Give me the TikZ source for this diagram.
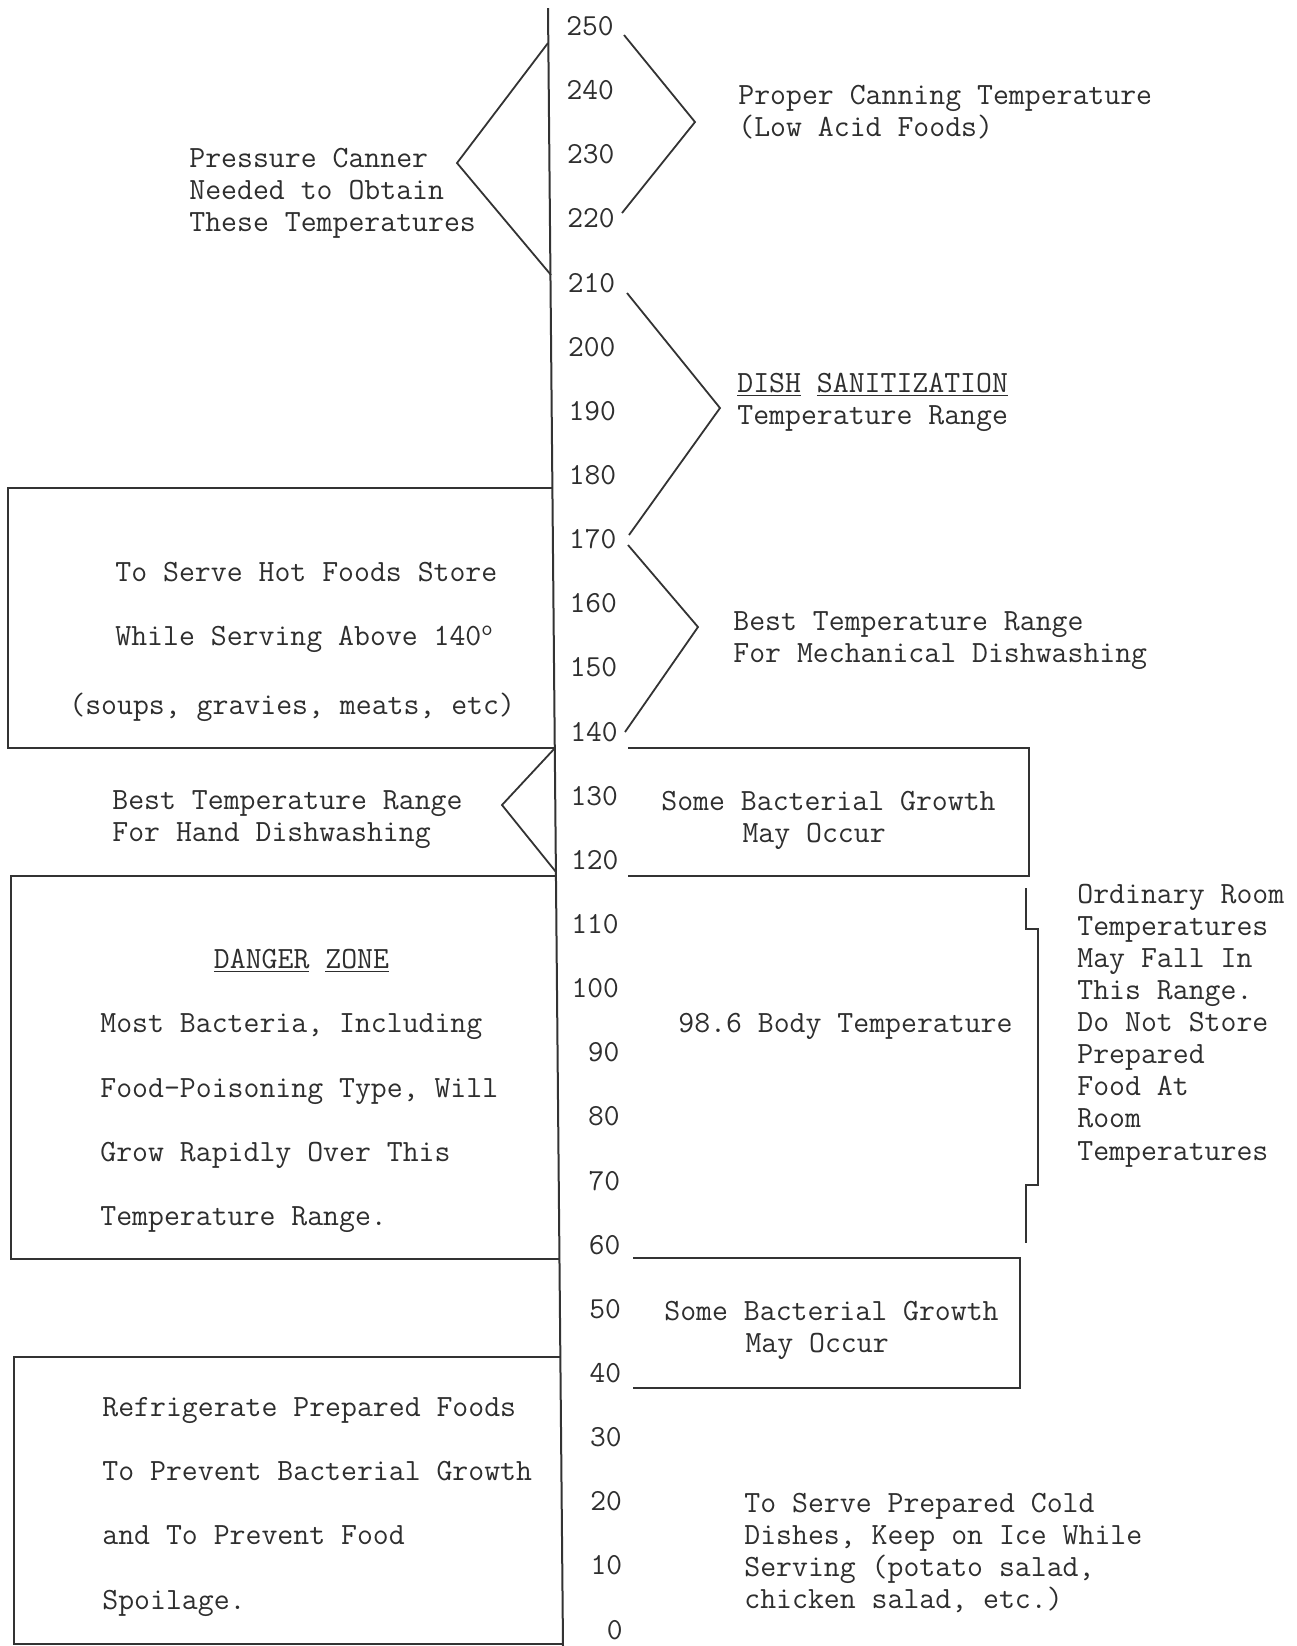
\documentclass[tikz,border=0pt]{standalone}
\usepackage{tikz}
\usetikzlibrary{%
  calc,
  positioning,
}

\begin{document}
\begin{tikzpicture}[x=0.5pt, y=-0.5pt,
    note/.style={font=\ttfamily\fontsize{15.45}{16.05}\selectfont,
      inner sep=0pt, anchor=north west, align=left, text=black!82},
    note2/.style={note, font=\ttfamily\fontsize{15.45}{32.2}\selectfont},
    degree/.style={font=\ttfamily\fontsize{15.3}{16.05}\selectfont,
      inner sep=0pt, anchor=east, text=black!82},
    chevron/.style={draw=black!80, line width=0.9pt},
    boxline/.style={draw=black!80, line width=1.1pt}]

        \useasboundingbox (0,0) rectangle (1297,1646);
        % units are pixels of the sheet, y runs down

        \coordinate (axtop) at (548,8);
        \coordinate (axbot) at (563,1646);
        \draw[line width=1pt, black!80] (axtop) -- (axbot);

        \foreach \t in {0,10,...,250}
          \node[degree] (n\t) at ({614+9*(250-\t)/250}, {26.2+6.414*(250-\t)}) {\t};

        % brackets beside the scale
        \draw[chevron] (548,43) -- (457,163) -- (551,275);
        \draw[chevron] (624,35) -- (695,122) -- (622,213);
        \draw[chevron] (627,293) -- (720,408) -- (629,535);
        \draw[chevron] (628,545) -- (698,627) -- (625,732);
        \draw[chevron] (555,748) -- (502,805) -- (556,872);
        \draw[chevron] (1026,888) -- (1026,929) -- (1038,929)
          -- (1038,1185) -- (1026,1185) -- (1026,1243);

        % boxes on the left
        \draw[boxline] (552.5,488) -| (8,748) -- (555,748);
        \draw[boxline] (556,876) -| (11,1259) -- (559.6,1259);
        \draw[boxline] (560.5,1357) -| (14,1644) -- (563,1644);

        % boxes on the right
        \draw[boxline] (628,748) -| (1029,876) -- (628,876);
        \draw[boxline] (633,1258) -| (1020,1388) -- (633,1388);

        \node[note] (canner) at (189,147.6)
          {Pressure Canner\\Needed to Obtain\\These Temperatures};
        \node[note] (canning) at (738,84.6)
          {Proper Canning Temperature\\(Low Acid Foods)};
        \node[note] (sanit) at (737,372.6)
          {\underline{DISH} \underline{SANITIZATION}\\Temperature Range};
        \node[note] (mech) at (733,611.6)
          {Best Temperature Range\\For Mechanical Dishwashing};
        \node[note2] (hot) at (115,561.6)
          {To Serve Hot Foods Store\\While Serving Above 140\textsuperscript{o}};
        \node[note] (hotex) at (69,692.6) {(soups, gravies, meats, etc)};
        \node[note] (hand) at (112,790.6)
          {Best Temperature Range\\For Hand Dishwashing};
        \node[note] (growup) at (661,790.6)
          {Some Bacterial Growth\\\hspace*{2.625em}May Occur};
        \node[note] (room) at (1077,883.6)
          {Ordinary Room\\Temperatures\\May Fall In\\This Range.\\Do Not Store\\Prepared\\Food At\\Room\\Temperatures};
        \node[note] (body) at (678,1012.6) {98.6 Body Temperature};
        \node[note2] (danger) at (100,948.6)
          {\hspace*{3.675em}\underline{DANGER} \underline{ZONE}\\Most Bacteria, Including\\Food-Poisoning Type, Will\\Grow Rapidly Over This\\Temperature Range.};
        \node[note] (growlow) at (664,1300.6)
          {Some Bacterial Growth\\\hspace*{2.625em}May Occur};
        \node[note2] (fridge) at (102,1396.6)
          {Refrigerate Prepared Foods\\To Prevent Bacterial Growth\\and To Prevent Food\\Spoilage.};
        \node[note] (cold) at (744,1492.6)
          {To Serve Prepared Cold\\Dishes, Keep on Ice While\\Serving (potato salad,\\chicken salad, etc.)};
      \end{tikzpicture}
\end{document}
